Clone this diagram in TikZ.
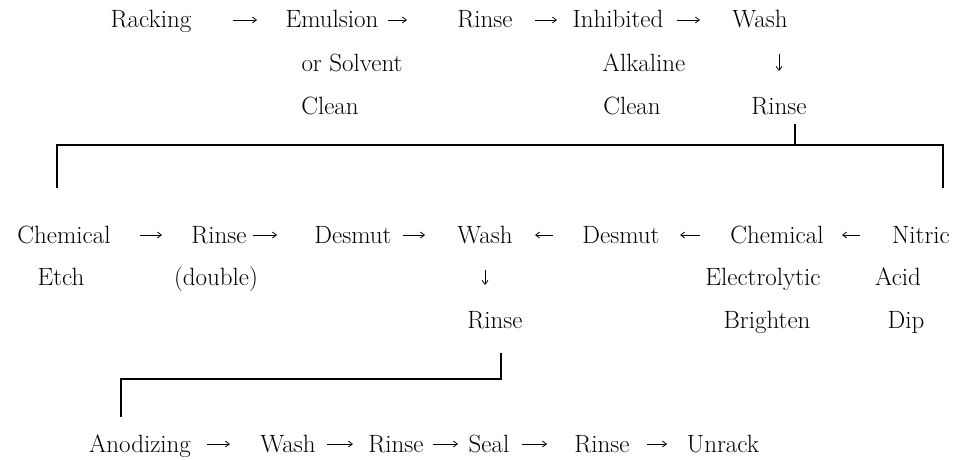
\documentclass[tikz,border=0pt]{standalone}
\usepackage{tikz}
\usetikzlibrary{arrows.meta, positioning, calc}

\tikzset{
  stage/.style={inner sep=0pt, anchor=base, text height=18pt, text depth=2pt,
    font=\fontsize{25}{30}\selectfont},
  arr/.style 2 args={-{Straight Barb[length=4pt,width=6pt]}, line width=0.8pt,
    shorten <=#1pt, shorten >=#2pt},
  bracket/.style={line width=1.6pt}
}

\begin{document}
\begin{tikzpicture}[x=1pt, y=-1pt]
    \useasboundingbox[fill=white] (0,0) rectangle (956,460);
    % first row
    \node[stage] (rack) at (151,28) {Racking};
    \node[stage] (emul) at (332,28) {Emulsion};
    \node[stage] (emul2) at (352,71) {or Solvent};
    \node[stage] (emul3) at (330,114) {Clean};
    \node[stage] (rinse0) at (485,28) {Rinse};
    \node[stage] (inhib) at (618,28) {Inhibited};
    \node[stage] (inhib2) at (644,71) {Alkaline};
    \node[stage] (inhib3) at (632,114) {Clean};
    \node[stage] (wash1) at (760,28) {Wash};
    \node[stage] (rinse1) at (779,114) {Rinse};
    \draw[arr={82}{75}] (rack.center) -- (emul.center);
    \draw[arr={56}{78}] (emul.center) -- (rinse0.center);
    \draw[arr={50}{61}] (rinse0.center) -- (inhib.center);
    \draw[arr={59}{60}] (inhib.center) -- (wash1.center);
    \draw[arr={34}{35}] (rinse1.center |- wash1.center) -- (rinse1.center);
    % second row
    \node[stage] (chem) at (64,243) {Chemical};
    \node[stage] (chem2) at (61,285.5) {Etch};
    \node[stage] (rinsedbl) at (219,243) {Rinse};
    \node[stage] (rinsedbl2) at (216,285.5) {(double)};
    \node[stage] (desmut1) at (353,243) {Desmut};
    \node[stage] (wash2) at (485,243) {Wash};
    \node[stage] (rinse2) at (495,328) {Rinse};
    \node[stage] (desmut2) at (621,243) {Desmut};
    \node[stage] (bright) at (777,243) {Chemical};
    \node[stage] (bright2) at (763,285.5) {Electrolytic};
    \node[stage] (bright3) at (767,328) {Brighten};
    \node[stage] (nitric) at (921,243) {Nitric};
    \node[stage] (nitric2) at (898,285.5) {Acid};
    \node[stage] (nitric3) at (906,328) {Dip};
    \draw[arr={76}{57}] (chem.center) -- (rinsedbl.center);
    \draw[arr={34}{76}] (rinsedbl.center) -- (desmut1.center);
    \draw[arr={50}{60}] (desmut1.center) -- (wash2.center);
    \draw[arr={68}{50}] (desmut2.center) -- (wash2.center);
    \draw[arr={77}{59}] (bright.center) -- (desmut2.center);
    \draw[arr={61}{65}] (nitric.center) -- (bright.center);
    \draw[arr={35}{35}] (wash2.center) -- (wash2.center |- rinse2.center);
    % third row
    \node[stage] (anod) at (140,452) {Anodizing};
    \node[stage] (wash3) at (288,452) {Wash};
    \node[stage] (rinse3) at (396,452) {Rinse};
    \node[stage] (seal) at (489,452) {Seal};
    \node[stage] (rinse4) at (602,452) {Rinse};
    \node[stage] (unrack) at (723,452) {Unrack};
    \draw[arr={67}{58}] (anod.center) -- (wash3.center);
    \draw[arr={39}{43}] (wash3.center) -- (rinse3.center);
    \draw[arr={37}{31}] (rinse3.center) -- (seal.center);
    \draw[arr={33}{55}] (seal.center) -- (rinse4.center);
    \draw[arr={45}{56}] (rinse4.center) -- (unrack.center);
    % brackets
    \draw[bracket] ([shift={(-7,-37)}]chem.north) |- ([shift={(22,-80)}]nitric.north)
        -- ([shift={(22,-37)}]nitric.north);
    \draw[bracket] ([shift={(16,8)}]rinse1.south) -- ([shift={(16,29)}]rinse1.south);
    \draw[bracket] ([shift={(6,23)}]rinse2.south) |- ([shift={(-19,-55)}]anod.north)
        -- ([shift={(-19,-17)}]anod.north);
\end{tikzpicture}
\end{document}
